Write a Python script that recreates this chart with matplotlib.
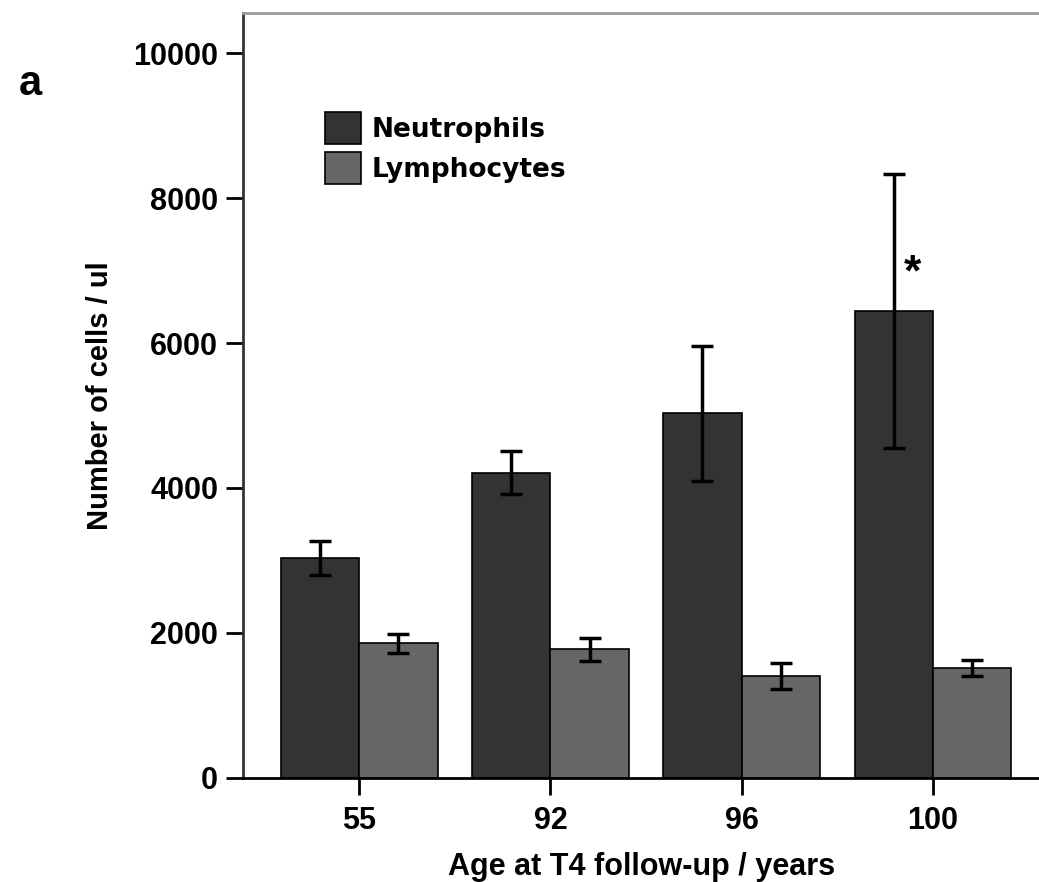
import numpy as np
import matplotlib
matplotlib.use("Agg")
import matplotlib.pyplot as plt

# data
ages = ["55", "92", "96", "100"]
neutrophils = [3030, 4210, 5030, 6440]
neutrophils_err = [235, 295, 930, 1890]
lymphocytes = [1860, 1775, 1400, 1515]
lymphocytes_err = [130, 155, 180, 110]

plt.rcParams['font.family'] = ['Liberation Sans', 'DejaVu Sans']

fig = plt.figure(figsize=(10.39, 8.82), dpi=100)
ax = fig.add_axes([0.234, 0.118, 0.766, 0.867])

x = np.arange(len(ages))
w = 0.41
ax.bar(x - w/2, neutrophils, w, color="#333333", edgecolor="black", linewidth=1.2,
       label="Neutrophils")
ax.bar(x + w/2, lymphocytes, w, color="#666666", edgecolor="black", linewidth=1.2,
       label="Lymphocytes")
ax.errorbar(x - w/2, neutrophils, yerr=neutrophils_err, fmt="none", ecolor="black",
            elinewidth=2.5, capsize=8, capthick=2.5)
ax.errorbar(x + w/2, lymphocytes, yerr=lymphocytes_err, fmt="none", ecolor="black",
            elinewidth=2.5, capsize=8, capthick=2.5)

# significance mark
ax.text(x[3] - w/2 + 0.1, 6950, "*", fontsize=32, fontweight="bold",
        ha="center", va="center")

ax.set_xlim(-0.606, 3.554)
ax.set_ylim(0, 10550)
ax.set_xticks(x)
ax.set_xticklabels(ages)
ax.set_yticks([0, 2000, 4000, 6000, 8000, 10000])
ax.tick_params(axis="both", length=12, width=2, labelsize=22)
ax.tick_params(axis="y", pad=6)
ax.tick_params(axis="x", pad=8)
for lab in ax.get_xticklabels() + ax.get_yticklabels():
    lab.set_fontweight("bold")

ax.spines["right"].set_visible(False)
ax.spines["top"].set_color("#999999")
ax.spines["top"].set_linewidth(2)
ax.spines["left"].set_color("#333333")
ax.spines["left"].set_linewidth(2)
ax.spines["bottom"].set_linewidth(2)

ax.set_xlabel("Age at T4 follow-up / years", fontsize=22, fontweight="bold", labelpad=12)
ax.set_ylabel("Number of cells / ul", fontsize=21, fontweight="bold", labelpad=14)

leg = ax.legend(loc="upper left", bbox_to_anchor=(0.09, 0.885), frameon=False,
                prop={"family": "DejaVu Sans", "weight": "bold", "size": 19},
                handlelength=1.35, handleheight=1.5, handletextpad=0.4,
                labelspacing=0.3, borderaxespad=0)

fig.text(0.018, 0.892, "a", fontsize=30, fontweight="bold", va="baseline")

fig.savefig("out.png", dpi=100)
